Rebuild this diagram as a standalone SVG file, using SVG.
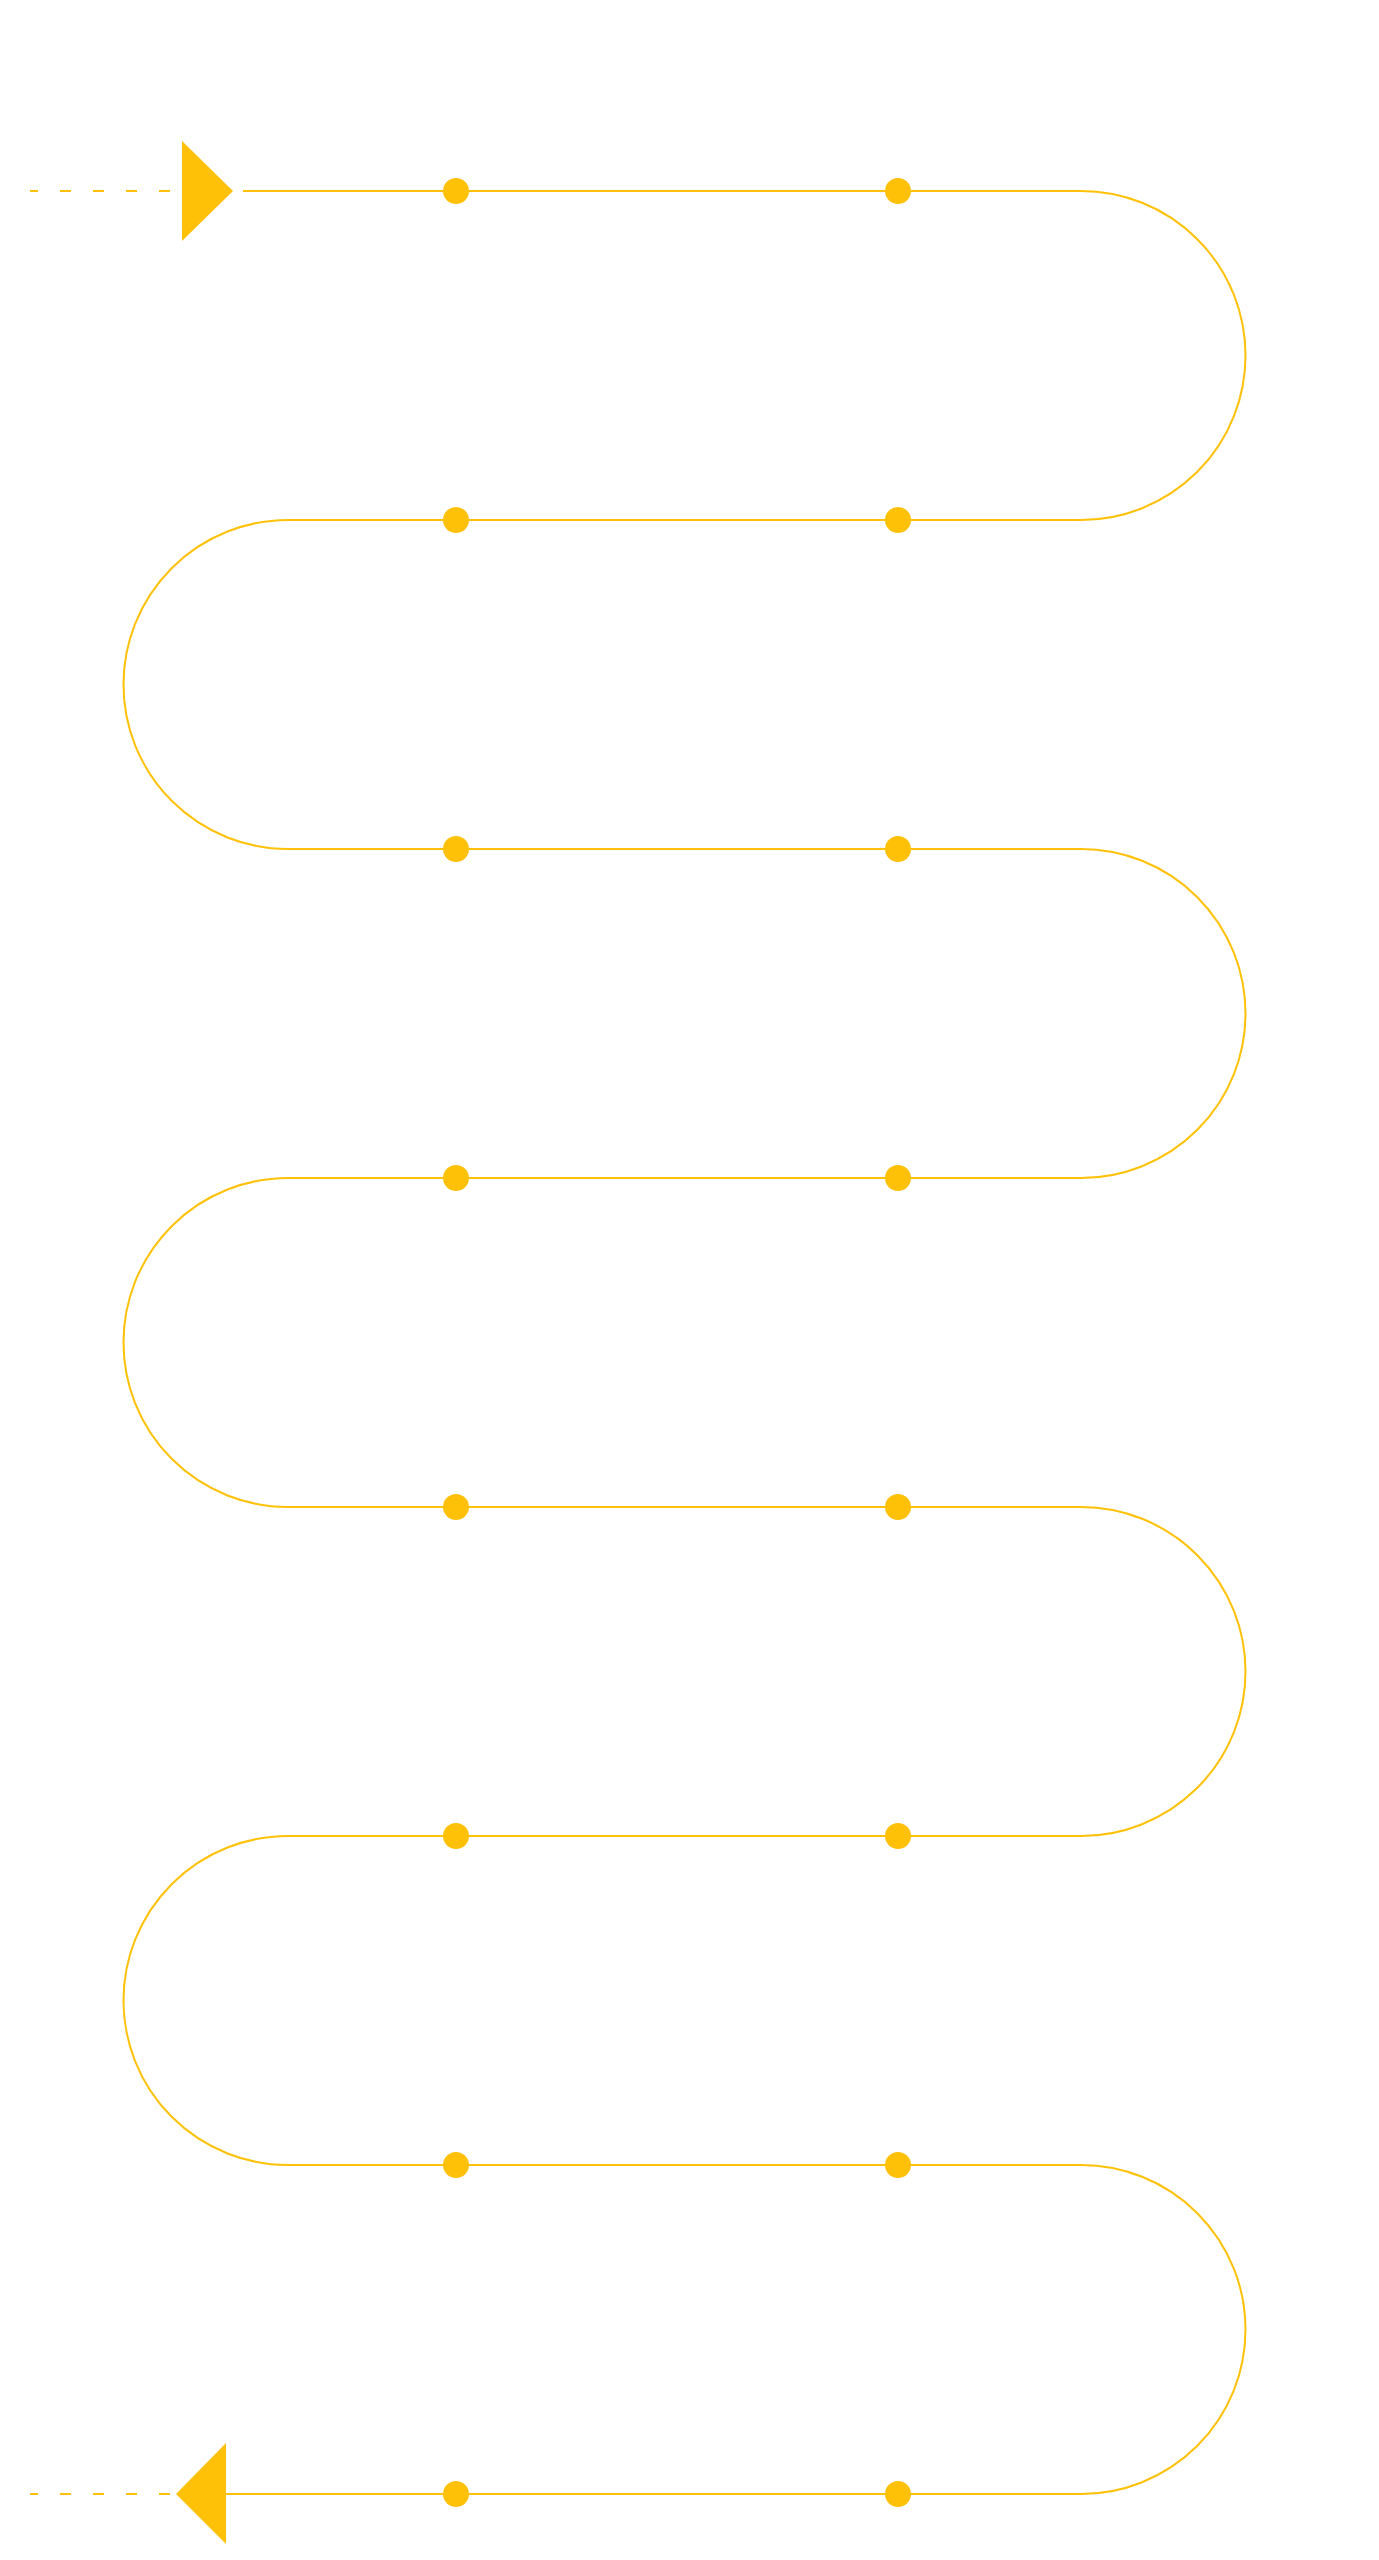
<svg xmlns="http://www.w3.org/2000/svg" width="1379" height="2560" viewBox="0 0 1379 2560">
<style>.ln{fill:none;stroke:#FFC107;stroke-width:2}.ds{fill:none;stroke:#FFC107;stroke-width:2;stroke-dasharray:11 22}.dot{fill:#FFC107}</style>
<rect width="1379" height="2560" fill="#fff"/>
<g id="connectors">
<line class="ds" x1="170" y1="191" x2="30" y2="191"/>
<line class="ds" x1="170" y1="2494" x2="30" y2="2494"/>
<path class="ln" d="M243,191 H1081 A164.5,164.5 0 0 1 1081,520 H288 A164.5,164.5 0 0 0 288,849 H1081 A164.5,164.5 0 0 1 1081,1178 H288 A164.5,164.5 0 0 0 288,1507 H1081 A164.5,164.5 0 0 1 1081,1836 H288 A164.5,164.5 0 0 0 288,2165 H1081 A164.5,164.5 0 0 1 1081,2494 H226"/>
</g>
<g id="start-arrow"><polygon class="dot" points="182,141 233,191 182,241"/></g>
<g id="end-arrow"><polygon class="dot" points="226,2443 176,2494 226,2544"/></g>
<g id="dots">
<circle class="dot" cx="456" cy="191" r="13"/><circle class="dot" cx="898" cy="191" r="13"/>
<circle class="dot" cx="456" cy="520" r="13"/><circle class="dot" cx="898" cy="520" r="13"/>
<circle class="dot" cx="456" cy="849" r="13"/><circle class="dot" cx="898" cy="849" r="13"/>
<circle class="dot" cx="456" cy="1178" r="13"/><circle class="dot" cx="898" cy="1178" r="13"/>
<circle class="dot" cx="456" cy="1507" r="13"/><circle class="dot" cx="898" cy="1507" r="13"/>
<circle class="dot" cx="456" cy="1836" r="13"/><circle class="dot" cx="898" cy="1836" r="13"/>
<circle class="dot" cx="456" cy="2165" r="13"/><circle class="dot" cx="898" cy="2165" r="13"/>
<circle class="dot" cx="456" cy="2494" r="13"/><circle class="dot" cx="898" cy="2494" r="13"/>
</g>
</svg>
